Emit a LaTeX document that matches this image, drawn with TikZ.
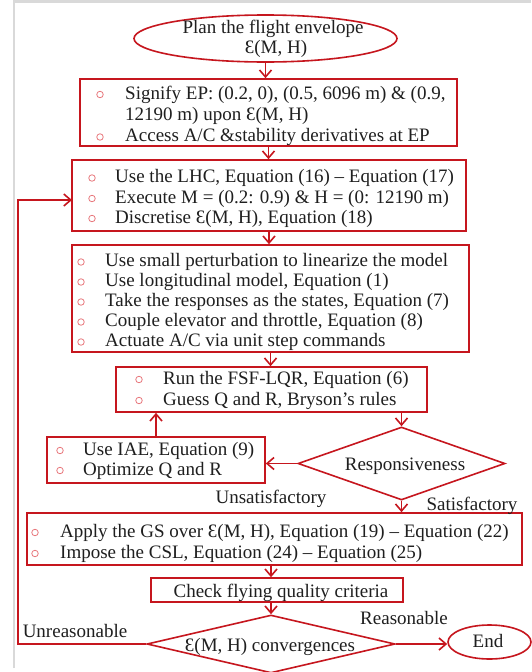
\documentclass[tikz,border=0pt]{standalone}
\usepackage{fontspec}
\setmainfont{Liberation Serif}
\usetikzlibrary{shapes.geometric,arrows.meta}
\definecolor{dred}{RGB}{198,22,30}
\definecolor{bulc}{RGB}{232,120,125}
\definecolor{frame}{RGB}{217,217,217}
\begin{document}
\begin{tikzpicture}[x=1pt,y=-1pt,
  box/.style={draw=dred,line width=1.6pt,rectangle,inner sep=0pt},
  dia/.style={draw=dred,line width=1.6pt,diamond,inner sep=0pt},
  ell/.style={draw=dred,line width=1.6pt,ellipse,inner sep=0pt},
  arr/.style={draw=dred,line width=1.6pt,-{Straight Barb[length=7pt,width=12pt,line width=1.6pt]}},
  ln/.style={draw=dred,line width=1.6pt},
  txt/.style={font=\fontsize{19}{20}\selectfont,inner sep=0pt,anchor=base west,text=black!88},
  ctxt/.style={font=\fontsize{19}{20}\selectfont,inner sep=0pt,anchor=base,text=black!88},
  bul/.style={circle,draw=bulc,line width=0.8pt,minimum size=6.5pt,inner sep=0pt}
]
\useasboundingbox (0,0) rectangle (531,672);
\fill[white] (0,0) rectangle (531,672);
% light page frame
\draw[frame,line width=2.5pt] (14,668) -- (14,1.5) -- (531,1.5);

% shapes
\node[ell,minimum width=263pt,minimum height=47pt] (e1) at (265.5,38.5) {};
\node[box,minimum width=377pt,minimum height=67pt] (b2) at (268.5,112.5) {};
\node[box,minimum width=394pt,minimum height=71pt] (b3) at (269,195.5) {};
\node[box,minimum width=397pt,minimum height=107pt] (b4) at (270.5,298.5) {};
\node[box,minimum width=311pt,minimum height=45pt] (b5) at (271.5,389.5) {};
\node[dia,minimum width=207pt,minimum height=73pt] (d1) at (401.5,463.5) {};
\node[box,minimum width=218pt,minimum height=46pt] (b6) at (156,460) {};
\node[box,minimum width=495pt,minimum height=52pt] (b7) at (274.5,539) {};
\node[box,minimum width=252pt,minimum height=24pt] (b8) at (277,590) {};
\node[dia,minimum width=248pt,minimum height=58pt] (d2) at (271,644) {};
\node[ell,minimum width=83pt,minimum height=34pt] (en) at (489.5,642) {};
\coordinate (fb) at (18,644);
\coordinate (b3in) at (72,200);

% connectors
\draw[arr] (e1.south) -- (e1.south |- b2.north);
\draw[arr] (b2.south) -- (b2.south |- b3.north);
\draw[arr] (b3.south) -- (b3.south |- b4.north);
\draw[arr] (b4.south) -- (b4.south |- b5.north);
\draw[arr] (d1.north |- b5.south) -- (d1.north);
\draw[arr] (d1.west) -- (d1.west -| b6.east);
\draw[arr] (b6.north) -- (b6.north |- b5.south);
\draw[arr] (d1.south) -- (d1.south |- b7.north);
\draw[arr] (d2.north |- b7.south) -- (d2.north |- b8.north);
\draw[arr] (d2.north |- b8.south) -- (d2.north);
\draw[arr] (d2.east) -- (d2.east -| en.west);
\draw[arr] (d2.west) -- (fb) |- (b3in);

% texts
\node[ctxt] (t1a) at (273,33.3) {Plan the flight envelope};
\node[ctxt] (t1b) at (276,53) {Ɛ(M, H)};

\node[bul] (u2a) at (100,94.5) {};
\node[txt] (t2a) at (125,99) {Signify EP: (0.2, 0), (0.5, 6096 m) \& (0.9,};
\node[txt] (t2b) at (125,120) {12190 m) upon Ɛ(M, H)};
\node[bul] (u2c) at (100,137) {};
\node[txt] (t2c) at (125,141.5) {Access A/C \&stability derivatives at EP};

\node[bul] (u3a) at (92,178) {};
\node[txt] (t3a) at (115,182.5) {Use the LHC, Equation (16) – Equation (17)};
\node[bul] (u3b) at (92,198.5) {};
\node[txt] (t3b) at (115,203) {Execute M = (0.2: 0.9) \& H = (0: 12190 m)};
\node[bul] (u3c) at (92,218.5) {};
\node[txt] (t3c) at (115,223) {Discretise Ɛ(M, H), Equation (18)};

\node[bul] (u4a) at (81,262) {};
\node[txt] (t4a) at (105,266.5) {Use small perturbation to linearize the model};
\node[bul] (u4b) at (81,282) {};
\node[txt] (t4b) at (105,286.5) {Use longitudinal model, Equation (1)};
\node[bul] (u4c) at (81,302) {};
\node[txt] (t4c) at (105,306.5) {Take the responses as the states, Equation (7)};
\node[bul] (u4d) at (81,322) {};
\node[txt] (t4d) at (105,326.5) {Couple elevator and throttle, Equation (8)};
\node[bul] (u4e) at (81,342) {};
\node[txt] (t4e) at (105,346.5) {Actuate A/C via unit step commands};

\node[bul] (u5a) at (139,379.5) {};
\node[txt] (t5a) at (163,384) {Run the FSF-LQR, Equation (6)};
\node[bul] (u5b) at (139,400.5) {};
\node[txt] (t5b) at (163,405) {Guess Q and R, Bryson’s rules};

\node[ctxt] (td1) at (405,470) {Responsiveness};

\node[bul] (u6a) at (60,450.5) {};
\node[txt] (t6a) at (83,455) {Use IAE, Equation (9)};
\node[bul] (u6b) at (60,470.5) {};
\node[txt] (t6b) at (83,475) {Optimize Q and R};

\node[ctxt] (lu) at (271,503) {Unsatisfactory};
\node[ctxt] (ls) at (472,510) {Satisfactory};

\node[bul] (u7a) at (35,532.5) {};
\node[txt] (t7a) at (60,537) {Apply the GS over Ɛ(M, H), Equation (19) – Equation (22)};
\node[bul] (u7b) at (35,553.5) {};
\node[txt] (t7b) at (60,558) {Impose the CSL, Equation (24) – Equation (25)};

\node[ctxt] (t8) at (281,597) {Check flying quality criteria};

\node[ctxt] (td2) at (270,651) {Ɛ(M, H) convergences};
\node[ctxt] (lr) at (404,624) {Reasonable};
\node[ctxt] (lun) at (75,637) {Unreasonable};
\node[ctxt] (ten) at (488,647) {End};
\end{tikzpicture}
\end{document}
